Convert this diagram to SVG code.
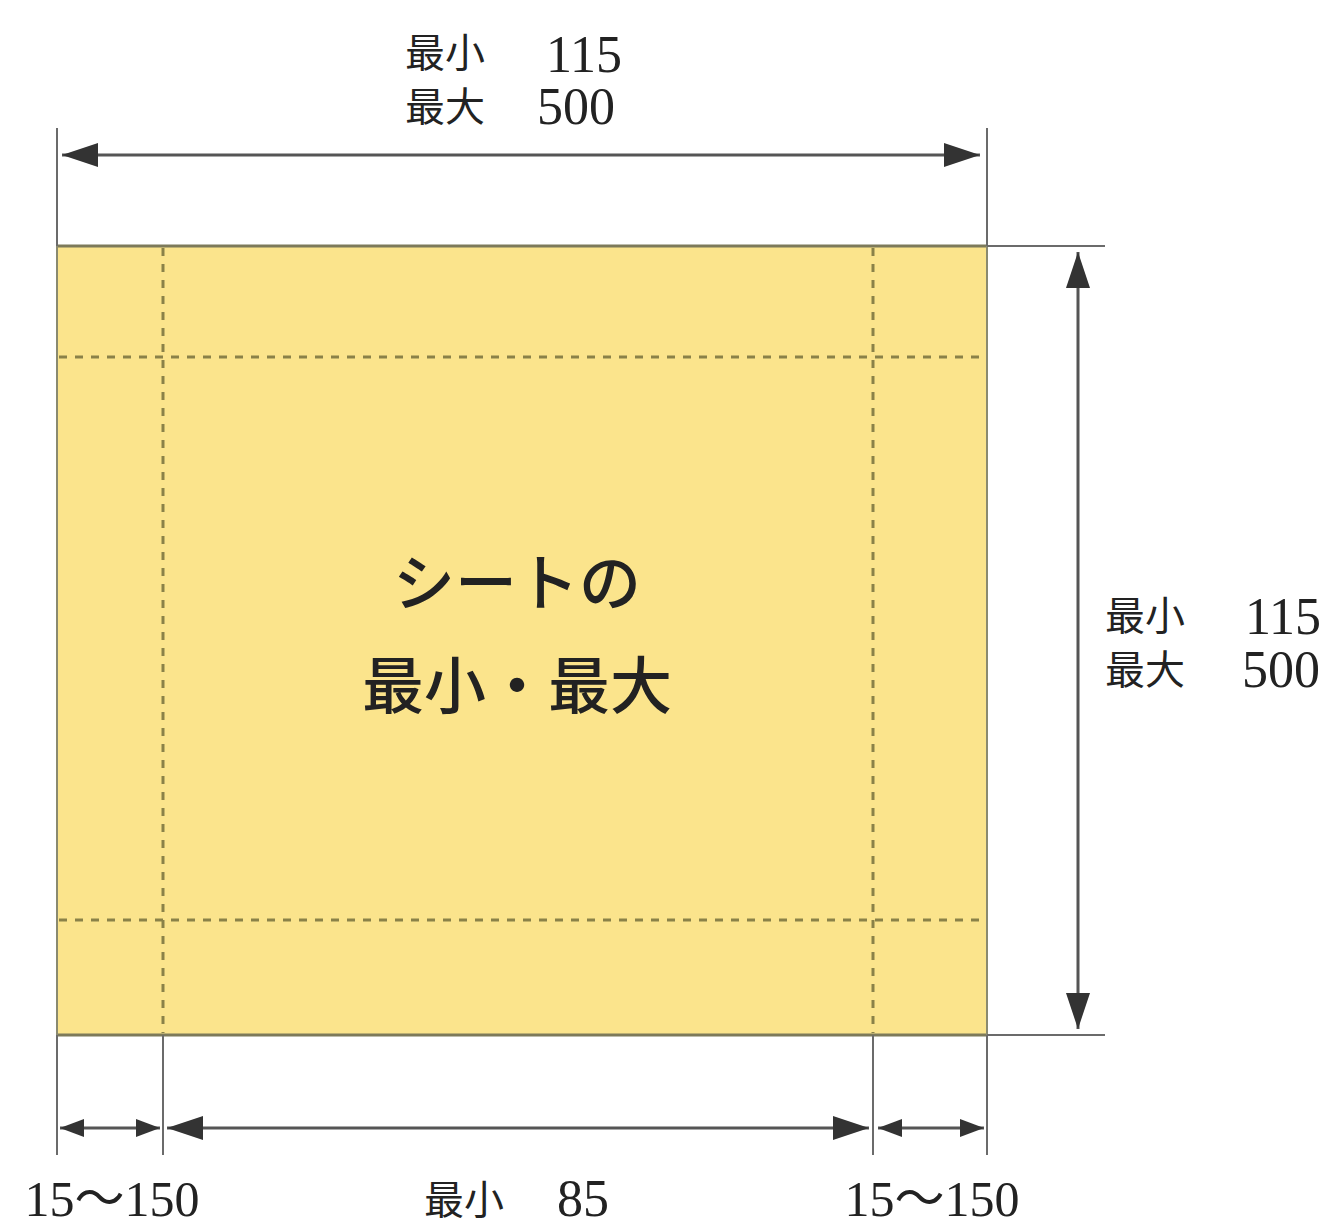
<svg xmlns="http://www.w3.org/2000/svg" width="1334" height="1225" viewBox="0 0 1334 1225">
<style>
.ext{stroke:#6b6b6b;stroke-width:2;fill:none}
.dim{stroke:#555;stroke-width:3;fill:none}
.dash{stroke:#8a8148;stroke-width:3;stroke-dasharray:8 8;fill:none}
.jp{font-family:"Noto Sans CJK JP","Liberation Serif",serif;fill:#222}
.num{font-family:"Liberation Serif","Noto Sans CJK JP",serif;fill:#222}
</style>
<defs>
<marker id="ah" markerUnits="userSpaceOnUse" markerWidth="40" markerHeight="30" refX="36" refY="12" orient="auto-start-reverse" viewBox="0 0 40 30">
<path d="M0,0 L36,12 L0,24 z" fill="#333"/>
</marker>
<marker id="as" markerUnits="userSpaceOnUse" markerWidth="30" markerHeight="24" refX="24" refY="9" orient="auto-start-reverse" viewBox="0 0 30 24">
<path d="M0,0 L24,9 L0,18 z" fill="#333"/>
</marker>
</defs>
<rect width="1334" height="1225" fill="#fff"/>
<g id="sheet">
<rect x="57" y="246" width="930" height="789" fill="#fbe48c"/>
<line x1="57" y1="246" x2="987" y2="246" stroke="#7d7a5a" stroke-width="3"/>
<line x1="57" y1="1035" x2="987" y2="1035" stroke="#7d7a5a" stroke-width="3"/>
<line x1="57" y1="246" x2="57" y2="1035" stroke="#8a8a70" stroke-width="2"/>
<line x1="987" y1="246" x2="987" y2="1035" stroke="#8a8a70" stroke-width="2"/>
<line class="dash" x1="163" y1="248" x2="163" y2="1033"/>
<line class="dash" x1="873" y1="248" x2="873" y2="1033"/>
<line class="dash" x1="59" y1="357" x2="985" y2="357"/>
<line class="dash" x1="59" y1="920" x2="985" y2="920"/>
<text class="jp" x="517" y="606" font-size="62" text-anchor="middle" font-weight="500">シートの</text>
<text class="jp" x="517" y="709" font-size="62" text-anchor="middle" font-weight="500">最小・最大</text>
</g>
<g id="connectors">
<line class="ext" x1="57" y1="128" x2="57" y2="246"/>
<line class="ext" x1="987" y1="128" x2="987" y2="246"/>
<line class="ext" x1="987" y1="246" x2="1105" y2="246"/>
<line class="ext" x1="987" y1="1035" x2="1105" y2="1035"/>
<line class="ext" x1="57" y1="1035" x2="57" y2="1155"/>
<line class="ext" x1="163" y1="1035" x2="163" y2="1155"/>
<line class="ext" x1="873" y1="1035" x2="873" y2="1155"/>
<line class="ext" x1="987" y1="1035" x2="987" y2="1155"/>
<line class="dim" x1="62" y1="155" x2="980" y2="155" marker-start="url(#ah)" marker-end="url(#ah)"/>
<line class="dim" x1="1078" y1="252" x2="1078" y2="1029" marker-start="url(#ah)" marker-end="url(#ah)"/>
<line class="dim" x1="60" y1="1128" x2="160" y2="1128" marker-start="url(#as)" marker-end="url(#as)"/>
<line class="dim" x1="167" y1="1128" x2="869" y2="1128" marker-start="url(#ah)" marker-end="url(#ah)"/>
<line class="dim" x1="878" y1="1128" x2="984" y2="1128" marker-start="url(#as)" marker-end="url(#as)"/>
</g>
<g id="label-top">
<text class="jp" x="405" y="67" font-size="40">最小</text>
<text class="num" x="546" y="72" font-size="52">115</text>
<text class="jp" x="405" y="121" font-size="40">最大</text>
<text class="num" x="537" y="124" font-size="52">500</text>
</g>
<g id="label-right">
<text class="jp" x="1105" y="630" font-size="40">最小</text>
<text class="num" x="1245" y="634" font-size="52">115</text>
<text class="jp" x="1105" y="684" font-size="40">最大</text>
<text class="num" x="1242" y="687" font-size="52">500</text>
</g>
<g id="label-bottom">
<text class="num" x="112" y="1216" font-size="50" text-anchor="middle">15〜150</text>
<text class="jp" x="424" y="1214" font-size="40">最小</text>
<text class="num" x="557" y="1216" font-size="52">85</text>
<text class="num" x="932" y="1216" font-size="50" text-anchor="middle">15〜150</text>
</g>
</svg>
